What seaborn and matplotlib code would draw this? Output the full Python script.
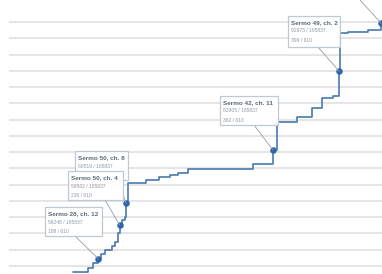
import matplotlib
matplotlib.use("Agg")
import matplotlib.pyplot as plt
import seaborn as sns
import pandas as pd
from matplotlib.patches import Rectangle
from matplotlib.lines import Line2D

# ---- data ----
step_x = [52438, 54724, 55486, 56248, 56705, 57315, 58382, 58839, 59296, 59562,
          59906, 60363, 60519, 60820, 63563, 65544, 67221, 68440, 69964, 79870,
          82905, 83527, 86575, 88861, 90385, 92061, 92975, 93128, 94347, 97395, 99376]
step_y = [6.3, 8.8, 11.8, 14.6, 17.4, 19.8, 22.3, 24.8, 30.3, 35.2,
          38.3, 40.1, 48.7, 61.0, 62.9, 64.7, 65.9, 67.2, 69.6, 72.7,
          81.3, 98.5, 101.6, 107.1, 113.3, 114.5, 129.8, 153.2, 153.8, 155.0, 159.3]

hl_titles = ["Sermo 50, ch. 8", "Sermo 50, ch. 4", "Sermo 28, ch. 12", "Sermo 42, ch. 11", "Sermo 49, ch. 2"]
hl_x = [60519, 59562, 56248, 82905, 92975]
hl_y = [48.7, 35.2, 14.6, 81.3, 129.8]
hl_idx = [None, 236, 188, 362, 399]
extra_x = [99376]
extra_y = [159.3]
total_words = 165837
total_ch = 610

grid_vals = list(range(10, 170, 10))

# ---- figure ----
sns.set_style("white")
plt.rcParams["font.family"] = ["Liberation Sans", "DejaVu Sans"]
W, H = 382, 274
fig = plt.figure(figsize=(W / 100, H / 100), dpi=100)
ax = fig.add_axes([9 / W, 0, (W - 9) / W, 1])
ax.set_xlim(42685, 99528)
ax.set_ylim(5.1, 173.5)
ax.set_yticks(grid_vals)
ax.set_xticks([])
ax.yaxis.grid(True, color="#e0e0e0", lw=1.2)
ax.tick_params(left=False, labelleft=False, bottom=False, labelbottom=False)
for s in ax.spines.values():
    s.set_visible(False)

df = pd.DataFrame({"x": step_x, "y": step_y})
sns.lineplot(data=df, x="x", y="y", ax=ax, drawstyle="steps-post",
             color="#4f7fb4", lw=1.25, zorder=3)
pts = pd.DataFrame({"x": hl_x + extra_x, "y": hl_y + extra_y})
sns.scatterplot(data=pts, x="x", y="y", ax=ax, color="#2f66aa", s=22,
                edgecolor="#2f66aa", linewidth=0, zorder=5, clip_on=False)
ax.set_xlabel("")
ax.set_ylabel("")


def fp(px, py):
    return (px / W, 1 - py / H)


def tip(box, anchor, i, zbase):
    l, t, r, b = box
    x0, y0 = fp(l, b)
    x1, y1 = fp(r, t)
    pt = ax.transData.transform((hl_x[i], hl_y[i]))
    ptf = fig.transFigure.inverted().transform(pt)
    ax_ = fp(*anchor)
    fig.add_artist(Line2D([ax_[0], ptf[0]], [ax_[1], ptf[1]], color="#9a9a9a",
                          lw=0.6, transform=fig.transFigure, zorder=zbase))
    fig.add_artist(Rectangle((x0, y0), x1 - x0, y1 - y0, transform=fig.transFigure,
                             facecolor="#ffffff", alpha=0.93, edgecolor="#b9c5cf",
                             lw=0.9, zorder=zbase + 0.1))
    tx = l + 3
    fig.text(*fp(tx, t + 8), hl_titles[i], fontsize=4.6, fontweight="bold",
             color="#5d6b78", zorder=zbase + 0.2)
    fig.text(*fp(tx, t + 16.5), f"{hl_x[i]} / {total_words}", fontsize=3.6,
             color="#8f9aa4", zorder=zbase + 0.2)
    if hl_idx[i] is not None:
        fig.text(*fp(tx, t + 26), f"{hl_idx[i]} / {total_ch}", fontsize=3.6,
                 color="#8f9aa4", zorder=zbase + 0.2)


tip((75, 151, 128, 180), (118, 180), 0, 10)
tip((68, 171, 123, 200), (105, 200), 1, 11)
tip((45, 207, 102, 236), (75, 236), 2, 12)
tip((220, 96, 278, 125), (254, 125), 3, 13)
tip((288, 16, 340, 47), (318, 47), 4, 14)

lp = fig.transFigure.inverted().transform(ax.transData.transform((extra_x[0], extra_y[0])))
s0 = fp(360, 0)
fig.add_artist(Line2D([s0[0], lp[0]], [s0[1], lp[1]], color="#9a9a9a", lw=0.6,
                      transform=fig.transFigure, zorder=9))

fig.savefig("out.png", dpi=100)
